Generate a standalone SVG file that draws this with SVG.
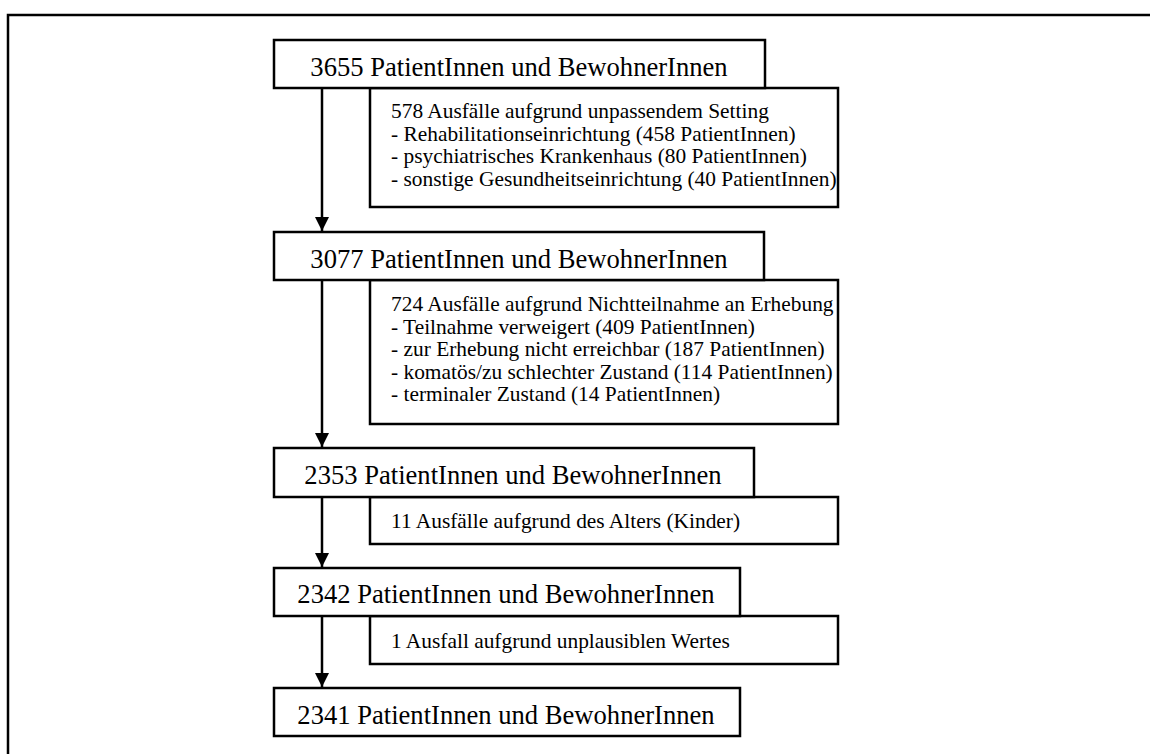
<svg xmlns="http://www.w3.org/2000/svg" width="1150" height="754" viewBox="0 0 1150 754">
<defs>
<style>
.box{fill:#fff;stroke:#000;stroke-width:2.5}
.main{font-family:"Liberation Serif","Times New Roman",serif;font-size:26.6px;fill:#000;text-anchor:middle}
.side{font-family:"Liberation Serif","Times New Roman",serif;font-size:21.4px;fill:#000}
.conn{stroke:#000;stroke-width:2.5;fill:none}
.frame{stroke:#000;stroke-width:2.5;fill:none}
</style>
<marker id="ah" markerWidth="14" markerHeight="15" refX="14" refY="7" orient="auto" markerUnits="userSpaceOnUse" viewBox="0 0 14 14">
<path d="M0,0 L14,7 L0,14 Z" fill="#000"/>
</marker>
</defs>
<rect width="1150" height="754" fill="#fff"/>
<path class="frame" d="M8,760 V15 H1160"/>

<g id="s1"><rect class="box" x="370" y="88" width="468" height="119"/>
<text class="side" x="391" y="118">578 Ausfälle aufgrund unpassendem Setting</text>
<text class="side" x="391" y="140.5">- Rehabilitationseinrichtung (458 PatientInnen)</text>
<text class="side" x="391" y="163">- psychiatrisches Krankenhaus (80 PatientInnen)</text>
<text class="side" x="391" y="185.5">- sonstige Gesundheitseinrichtung (40 PatientInnen)</text></g>

<g id="s2"><rect class="box" x="370" y="280" width="468" height="144"/>
<text class="side" x="391" y="311">724 Ausfälle aufgrund Nichtteilnahme an Erhebung</text>
<text class="side" x="391" y="333.5">- Teilnahme verweigert (409 PatientInnen)</text>
<text class="side" x="391" y="356">- zur Erhebung nicht erreichbar (187 PatientInnen)</text>
<text class="side" x="391" y="378.5">- komatös/zu schlechter Zustand (114 PatientInnen)</text>
<text class="side" x="391" y="401">- terminaler Zustand (14 PatientInnen)</text></g>

<g id="s3"><rect class="box" x="370" y="497" width="468" height="47"/>
<text class="side" x="391" y="528">11 Ausfälle aufgrund des Alters (Kinder)</text></g>

<g id="s4"><rect class="box" x="370" y="616" width="468" height="48"/>
<text class="side" x="391" y="648">1 Ausfall aufgrund unplausiblen Wertes</text></g>

<g id="n1"><rect class="box" x="274" y="40" width="491" height="48"/>
<text class="main" x="519" y="76">3655 PatientInnen und BewohnerInnen</text></g>
<g id="n2"><rect class="box" x="274" y="232" width="490" height="48"/>
<text class="main" x="519" y="268">3077 PatientInnen und BewohnerInnen</text></g>
<g id="n3"><rect class="box" x="274" y="448" width="480" height="49"/>
<text class="main" x="513" y="484">2353 PatientInnen und BewohnerInnen</text></g>
<g id="n4"><rect class="box" x="274" y="568" width="466" height="48"/>
<text class="main" x="506" y="603">2342 PatientInnen und BewohnerInnen</text></g>
<g id="n5"><rect class="box" x="274" y="688" width="466" height="48"/>
<text class="main" x="506" y="724">2341 PatientInnen und BewohnerInnen</text></g>

<g id="connectors">
<line class="conn" x1="322" y1="88" x2="322" y2="231" marker-end="url(#ah)"/>
<line class="conn" x1="322" y1="280" x2="322" y2="447" marker-end="url(#ah)"/>
<line class="conn" x1="322" y1="497" x2="322" y2="567" marker-end="url(#ah)"/>
<line class="conn" x1="322" y1="616" x2="322" y2="687" marker-end="url(#ah)"/>
</g>
</svg>
